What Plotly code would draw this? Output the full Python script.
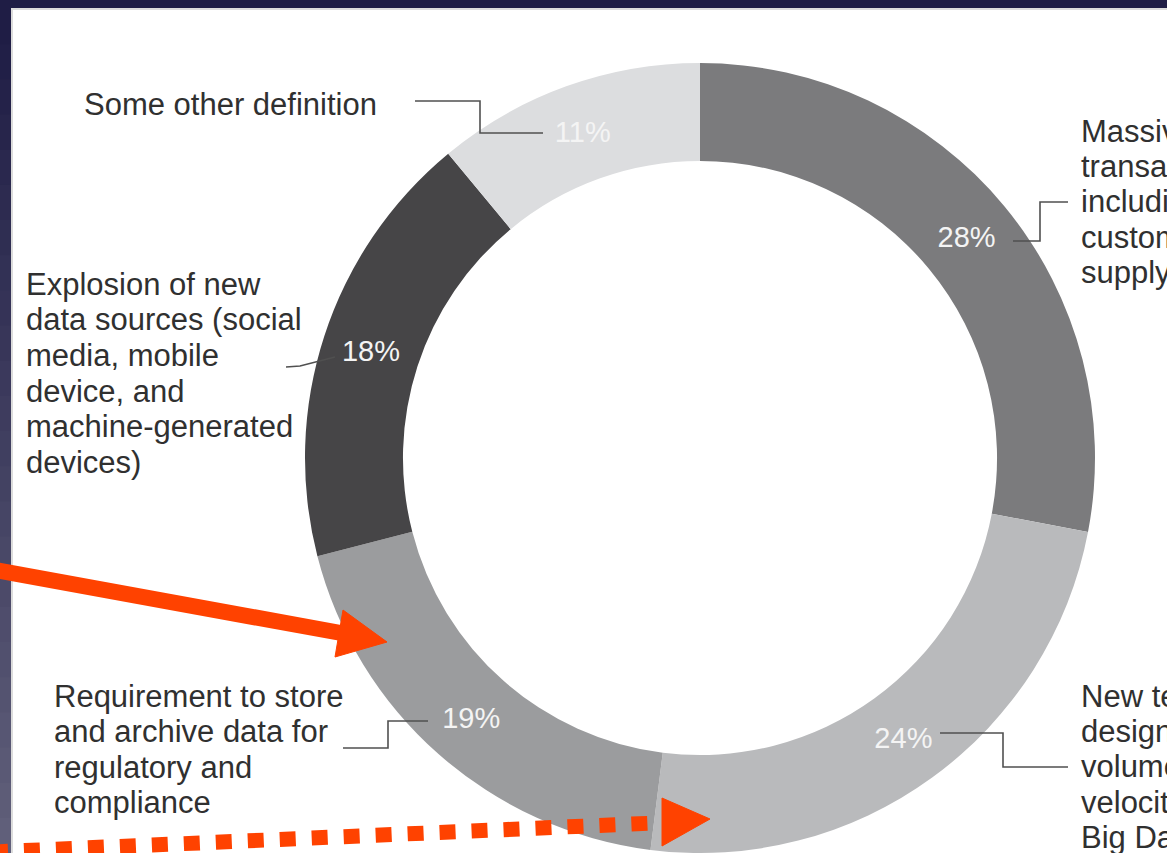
import plotly.graph_objects as go

# ---------------- data ----------------
categories = [
    "Massive growth of transaction data",
    "New technologies designed to address Big Data",
    "Requirement to store and archive data",
    "Explosion of new data sources",
    "Some other definition",
]
values = [28, 24, 19, 18, 11]
slice_colors = ["#7b7b7d", "#b9babc", "#9b9c9e", "#464547", "#dcdddf"]

label_massive = ["Massive growth of", "transaction data,", "including data from",
                 "customers and the", "supply chain"]
label_new = ["New technologies", "designed to address the", "volume, variety, and",
             "velocity challenges of", "Big Data"]
label_require = ["Requirement to store", "and archive data for",
                 "regulatory and", "compliance"]
label_explosion = ["Explosion of new", "data sources (social", "media, mobile",
                   "device, and", "machine-generated", "devices)"]
label_other = ["Some other definition"]

W, H = 1167, 853
FONT = "Liberation Sans, Arial, Helvetica, sans-serif"
TEXT_COLOR = "#303030"
ORANGE = "#ff4200"

fig = go.Figure()

# donut
R = 395
cx, cy = 700, 458
fig.add_trace(go.Pie(
    labels=categories,
    values=values,
    sort=False,
    direction="clockwise",
    rotation=0,
    hole=0.752,
    marker=dict(colors=slice_colors, line=dict(width=0)),
    texttemplate="%{value}%",
    textposition="inside",
    insidetextorientation="horizontal",
    textfont=dict(family=FONT, size=29, color="#f4f4f4"),
    hoverinfo="skip",
    showlegend=False,
    domain=dict(x=[(cx - R) / W, (cx + R) / W], y=[0, 2 * R / H]),
))

shapes = []
# navy frame
shapes.append(dict(type="rect", xref="x", yref="y", x0=0, x1=W, y0=0, y1=H,
                   fillcolor="#1f1d45", line=dict(width=0), layer="below"))
# left strip gradient
n = 24
top_c = (0x1f, 0x1d, 0x45)
bot_c = (0x60, 0x5f, 0x7a)
for i in range(n):
    t = i / (n - 1)
    c = tuple(int(top_c[k] + (bot_c[k] - top_c[k]) * t) for k in range(3))
    y0 = 9 + (H - 9) * i / n
    y1 = 9 + (H - 9) * (i + 1) / n + 1
    shapes.append(dict(type="rect", xref="x", yref="y", x0=0, x1=12, y0=y0, y1=y1,
                       fillcolor="rgb(%d,%d,%d)" % c, line=dict(width=0), layer="below"))
# white card with light border
shapes.append(dict(type="rect", xref="x", yref="y", x0=12, x1=W + 5, y0=9, y1=H + 5,
                   fillcolor="#ffffff", line=dict(width=2, color="#dcdcdc"), layer="below"))

# leader lines
leaders = [
    "M 415,101 L 480,101 L 480,133 L 543,133",
    "M 1013,241 L 1040,241 L 1040,202 L 1068,202",
    "M 286,367 L 300,366 L 335,357",
    "M 343,748 L 388,748 L 388,721 L 428,721",
    "M 940,733 L 1003,733 L 1003,767 L 1068,767",
]
for p in leaders:
    shapes.append(dict(type="path", xref="x", yref="y", path=p,
                       line=dict(color="#505050", width=1.6), layer="above"))

# orange arrows
shapes.append(dict(type="line", xref="x", yref="y", x0=-5, y0=570, x1=341, y1=633,
                   line=dict(color=ORANGE, width=16), layer="above"))
shapes.append(dict(type="path", xref="x", yref="y",
                   path="M 387,642 L 335,657 L 343,610 Z",
                   fillcolor=ORANGE, line=dict(color=ORANGE, width=1), layer="above"))
shapes.append(dict(type="line", xref="x", yref="y", x0=-8, y0=852, x1=656, y1=823,
                   line=dict(color=ORANGE, width=15, dash="16px,16px"), layer="above"))
shapes.append(dict(type="path", xref="x", yref="y",
                   path="M 710,819 L 662,846 L 662,798 Z",
                   fillcolor=ORANGE, line=dict(color=ORANGE, width=1), layer="above"))

# text labels (one annotation per line to match line spacing)
annotations = []


def add_block(lines, x, first_baseline, spacing):
    for i, s in enumerate(lines):
        annotations.append(dict(
            xref="x", yref="y", x=x - 3, y=first_baseline + i * spacing - 10.7,
            text=s, showarrow=False, xanchor="left", yanchor="middle",
            font=dict(family=FONT, size=31, color=TEXT_COLOR),
        ))


add_block(label_other, 85, 115, 35.6)
add_block(label_explosion, 27, 295, 35.6)
add_block(label_require, 55, 707, 35.4)
add_block(label_massive, 1082, 142, 35.3)
add_block(label_new, 1082, 707, 35.3)

fig.update_layout(
    width=W, height=H,
    margin=dict(l=0, r=0, t=0, b=0),
    paper_bgcolor="#ffffff",
    plot_bgcolor="rgba(0,0,0,0)",
    xaxis=dict(range=[0, W], visible=False, fixedrange=True, domain=[0, 1]),
    yaxis=dict(range=[H, 0], visible=False, fixedrange=True, domain=[0, 1]),
    shapes=shapes,
    annotations=annotations,
    showlegend=False,
)

fig.write_html("out.html")
